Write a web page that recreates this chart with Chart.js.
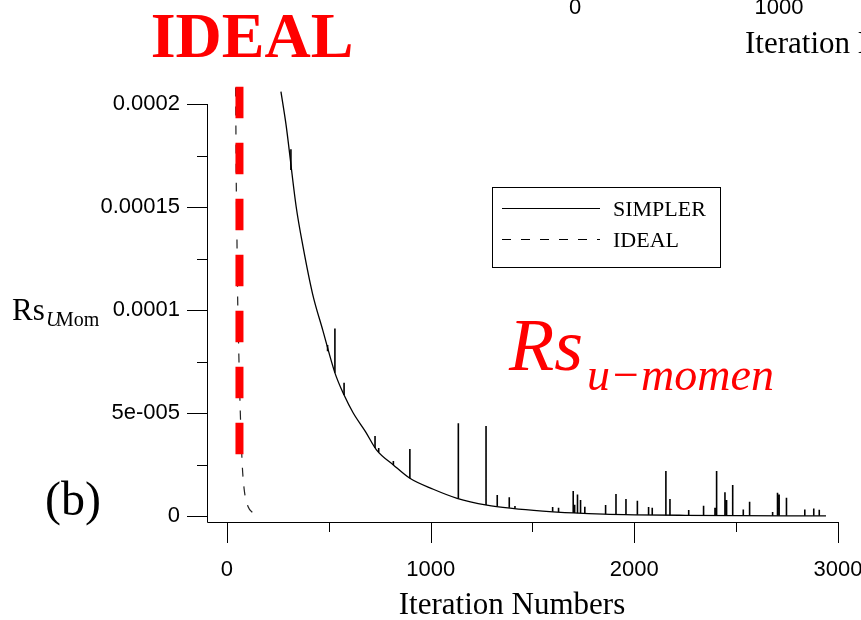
<!DOCTYPE html>
<html lang="en">
<head>
    <meta charset="UTF-8">
    <title>Rs u-momentum residual</title>
    <script src="https://cdn.jsdelivr.net/npm/chart.js"></script>
    <style>
        html, body { margin: 0; padding: 0; background: #fff; }
        canvas { display: block; }
    </style>
</head>
<body>
    <canvas id="resChart" width="861" height="620"></canvas>
    <script>
        // SIMPLER: smooth decay curve (iteration, residual)
        const simplerIter = [265, 290, 340, 373, 420, 471, 530, 575, 620, 680, 735, 817, 898, 1013, 1130, 1276, 1400, 1550, 1700, 1850, 2000, 2250, 2500, 2750, 2941];
        const simplerVal = [206e-6, 190e-6, 150e-6, 131e-6, 108e-6, 90e-6, 69.5e-6, 58.7e-6, 50e-6, 41e-6, 32e-6, 24.8e-6, 18.3e-6, 13e-6, 8.6e-6, 5.3e-6, 3.7e-6, 2.4e-6, 1.5e-6, 0.9e-6, 0.6e-6, 0.35e-6, 0.2e-6, 0.12e-6, 0.1e-6];

        // SIMPLER: single-iteration spikes (iteration, curve level, peak)
        const spikeIter = [314, 494, 530, 575, 727, 745, 817, 898, 1136, 1272, 1327, 1386, 1414, 1599, 1628,
            1700, 1707, 1721, 1736, 1757, 1859, 1910, 1959, 2015, 2070, 2088, 2155, 2175, 2267, 2340,
            2396, 2404, 2445, 2453, 2483, 2535, 2566, 2679, 2703, 2711, 2747, 2837, 2881, 2908];
        const spikeBase = [168e-6, 80e-6, 69.5e-6, 58.7e-6, 33e-6, 31e-6, 24.8e-6, 18.3e-6, 8.5e-6, 5.4e-6, 4.7e-6, 4.0e-6, 3.7e-6, 2.1e-6, 1.9e-6,
            1.5e-6, 1.5e-6, 1.4e-6, 1.4e-6, 1.3e-6, 0.9e-6, 0.8e-6, 0.7e-6, 0.6e-6, 0.5e-6, 0.5e-6, 0.4e-6, 0.4e-6, 0.35e-6, 0.3e-6,
            0.25e-6, 0.25e-6, 0.2e-6, 0.2e-6, 0.2e-6, 0.2e-6, 0.18e-6, 0.15e-6, 0.14e-6, 0.14e-6, 0.12e-6, 0.1e-6, 0.1e-6, 0.1e-6];
        const spikePeak = [178e-6, 83e-6, 91e-6, 64.7e-6, 38.8e-6, 33e-6, 26.7e-6, 32.5e-6, 45e-6, 43.7e-6, 10.2e-6, 9.1e-6, 4.9e-6, 4.4e-6, 4.0e-6,
            12.1e-6, 5.5e-6, 10.5e-6, 7.8e-6, 4.5e-6, 5.3e-6, 10.7e-6, 8.3e-6, 7.4e-6, 4.4e-6, 4.0e-6, 21.8e-6, 8.3e-6, 2.9e-6, 5.0e-6,
            4.0e-6, 21.8e-6, 11.5e-6, 7.8e-6, 15e-6, 3.2e-6, 6.9e-6, 2.0e-6, 11.3e-6, 10.5e-6, 8.9e-6, 3.2e-6, 3.7e-6, 3.0e-6];

        // IDEAL curve
        const idealIter = [42.7, 44, 45.6, 49, 52.5, 57, 65, 75, 85, 104.6, 128];
        const idealVal = [208e-6, 187e-6, 163e-6, 135e-6, 106e-6, 84e-6, 52e-6, 25e-6, 12.6e-6, 4.4e-6, 1.5e-6];

        // red marker line where IDEAL converges
        const markIter = [61.4, 61.4];
        const markVal = [208.4e-6, 30e-6];

        // axes
        const xTicks = [0, 1000, 2000, 3000];
        const xMinor = [500, 1500, 2500];
        const yTicks = [0, 5e-5, 1e-4, 1.5e-4, 2e-4];
        const yTickLabels = ['0', '5e-005', '0.0001', '0.00015', '0.0002'];
        const yMinor = [2.5e-5, 7.5e-5, 1.25e-4, 1.75e-4];

        const simplerPts = simplerIter.map((x, i) => ({ x: x, y: simplerVal[i] }));
        // each spike is a vertical stroke, broken from the next by a null
        const spikePts = [];
        spikeIter.forEach((s, i) => {
            spikePts.push({ x: s, y: spikeBase[i] }, { x: s, y: spikePeak[i] }, { x: s, y: null });
        });
        const idealPts = idealIter.map((x, i) => ({ x: x, y: idealVal[i] }));
        const markPts = markIter.map((x, i) => ({ x: x, y: markVal[i] }));

        const SERIF = '"Liberation Serif", "Times New Roman", serif';
        const SANS = '"Liberation Sans", Arial, sans-serif';

        function text(ctx, s, x, y, font, color, align) {
            ctx.font = font;
            ctx.fillStyle = color || '#000';
            ctx.textAlign = align || 'left';
            ctx.textBaseline = 'alphabetic';
            ctx.fillText(s, x, y);
        }

        const decor = {
            id: 'decor',
            afterDraw(chart) {
                const ctx = chart.ctx;
                const a = chart.chartArea;
                const xs = chart.scales.x, ys = chart.scales.y;
                ctx.save();
                ctx.strokeStyle = '#000';
                ctx.lineWidth = 1;
                ctx.setLineDash([]);

                // axis lines
                ctx.beginPath();
                ctx.moveTo(a.left + 0.5, a.top);
                ctx.lineTo(a.left + 0.5, a.bottom + 0.5);
                ctx.lineTo(a.right + 0.5, a.bottom + 0.5);
                ctx.stroke();

                // tick marks
                ctx.beginPath();
                xTicks.forEach(v => {
                    const px = Math.round(xs.getPixelForValue(v)) + 0.5;
                    ctx.moveTo(px, a.bottom); ctx.lineTo(px, a.bottom + 21);
                });
                xMinor.forEach(v => {
                    const px = Math.round(xs.getPixelForValue(v)) + 0.5;
                    ctx.moveTo(px, a.bottom); ctx.lineTo(px, a.bottom + 10);
                });
                yTicks.forEach(v => {
                    const py = Math.round(ys.getPixelForValue(v)) + 0.5;
                    ctx.moveTo(a.left, py); ctx.lineTo(a.left - 20, py);
                });
                yMinor.forEach(v => {
                    const py = Math.round(ys.getPixelForValue(v)) + 0.5;
                    ctx.moveTo(a.left, py); ctx.lineTo(a.left - 10, py);
                });
                ctx.stroke();

                // legend box
                const ds = chart.data.datasets;
                ctx.strokeRect(492.5, 187.5, 228, 80);
                ctx.beginPath();
                ctx.moveTo(502, 208.5); ctx.lineTo(600, 208.5);
                ctx.stroke();
                ctx.setLineDash([9, 10]);
                ctx.beginPath();
                ctx.moveTo(502, 239.5); ctx.lineTo(600, 239.5);
                ctx.stroke();
                ctx.setLineDash([]);
                text(ctx, ds[0].label, 613, 216, '22px ' + SERIF);
                text(ctx, ds[2].label, 613, 247, '22px ' + SERIF);

                // axis titles
                text(ctx, 'Iteration Numbers', 512, 614, '31px ' + SERIF, '#000', 'center');
                text(ctx, 'Rs', 12, 320, '31px ' + SERIF);
                text(ctx, 'U', 46, 326, 'italic 20px ' + SERIF);
                text(ctx, 'Mom', 56, 326, '20px ' + SERIF);
                text(ctx, '(b)', 45, 515, '48px ' + SERIF);

                // annotations
                text(ctx, 'IDEAL', 252, 57, 'bold 64px ' + SERIF, '#ff0000', 'center');
                text(ctx, 'Rs', 509, 370, 'italic 74px ' + SERIF, '#ff0000');
                text(ctx, 'u\u2212momen', 587, 390, 'italic 46px ' + SERIF, '#ff0000');

                // fragment of the panel above
                text(ctx, '0', 575, 14, '22px ' + SANS, '#000', 'center');
                text(ctx, '1000', 779, 14, '22px ' + SANS, '#000', 'center');
                text(ctx, 'Iteration Numbers', 745, 53, '31px ' + SERIF);
                ctx.restore();
            }
        };

        new Chart(document.getElementById('resChart').getContext('2d'), {
            type: 'line',
            data: {
                datasets: [
                    {
                        label: 'SIMPLER',
                        data: simplerPts,
                        borderColor: '#000',
                        borderWidth: 1.3,
                        pointRadius: 0,
                        cubicInterpolationMode: 'monotone',
                        clip: false,
                        order: 3
                    },
                    {
                        label: 'SIMPLER spikes',
                        data: spikePts,
                        borderColor: '#000',
                        borderWidth: 1.6,
                        pointRadius: 0,
                        spanGaps: false,
                        tension: 0,
                        clip: false,
                        order: 2
                    },
                    {
                        label: 'IDEAL',
                        data: idealPts,
                        borderColor: '#222',
                        borderWidth: 1.2,
                        borderDash: [9, 10],
                        pointRadius: 0,
                        cubicInterpolationMode: 'monotone',
                        clip: false,
                        order: 1
                    },
                    {
                        label: 'marker',
                        data: markPts,
                        borderColor: '#ff0000',
                        borderWidth: 8,
                        borderDash: [31.5, 24.5],
                        borderCapStyle: 'butt',
                        pointRadius: 0,
                        clip: false,
                        order: 0
                    }
                ]
            },
            options: {
                responsive: false,
                animation: false,
                layout: { padding: { top: 104, right: 23, left: 0, bottom: 0 } },
                scales: {
                    x: {
                        type: 'linear',
                        min: -98,
                        max: 3000,
                        afterFit: s => { s.height = 98; s.paddingLeft = 0; s.paddingRight = 0; },
                        afterBuildTicks: s => { s.ticks = xTicks.map(v => ({ value: v })); },
                        grid: { display: false, drawTicks: false },
                        border: { display: false },
                        ticks: {
                            padding: 35,
                            color: '#000',
                            maxRotation: 0,
                            font: { family: SANS, size: 22 },
                            callback: v => String(v)
                        }
                    },
                    y: {
                        min: -2.9e-6,
                        max: 2e-4,
                        afterFit: s => { s.width = 207; s.paddingTop = 0; s.paddingBottom = 0; },
                        afterBuildTicks: s => { s.ticks = yTicks.map(v => ({ value: v })); },
                        grid: { display: false, drawTicks: false },
                        border: { display: false },
                        ticks: {
                            padding: 27,
                            color: '#000',
                            font: { family: SANS, size: 22 },
                            callback: v => yTickLabels[yTicks.indexOf(v)]
                        }
                    }
                },
                plugins: {
                    legend: { display: false },
                    tooltip: { enabled: false }
                }
            },
            plugins: [decor]
        });
    </script>
</body>
</html>
